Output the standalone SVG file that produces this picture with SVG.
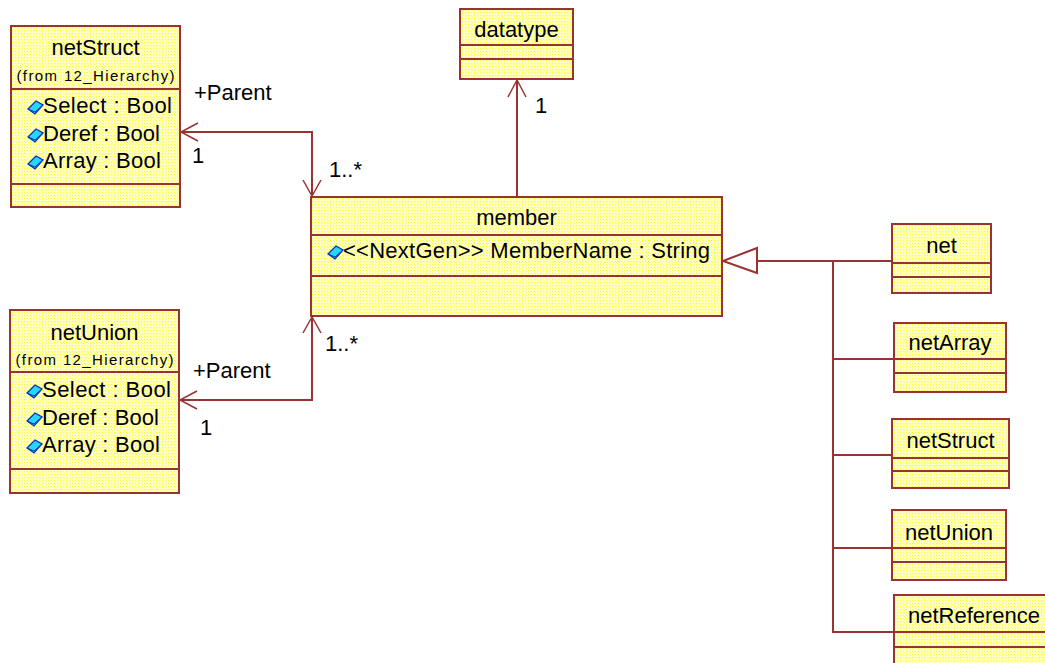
<svg xmlns="http://www.w3.org/2000/svg" width="1045" height="663" viewBox="0 0 1045 663">
  <defs>
    <pattern id="dots" patternUnits="userSpaceOnUse" width="3" height="3">
      <rect width="3" height="3" fill="#ffffc4"/>
      <rect width="1" height="1" fill="#ffff20"/>
      <rect x="1" y="1" width="1" height="1" fill="#ffff70"/>
    </pattern>
    <g id="attr">
      <polygon points="0,8 8,0 15,4 7,13" fill="#22d8ff" stroke="#1030b0" stroke-width="1.3"/>
      <polyline points="0,8 7,11 15,4" fill="none" stroke="#1030b0" stroke-width="1"/>
    </g>
  </defs>
  <style>
    .box { fill: url(#dots); stroke: #993333; stroke-width: 2; }
    .div { stroke: #993333; stroke-width: 2; }
    .t { font-family: "Liberation Sans", Arial, sans-serif; font-size: 22px; fill: #000; }
    .c { text-anchor: middle; }
    .s { font-size: 15px; }
    .ln { fill: none; stroke: #993333; stroke-width: 2; }
    .hd { fill: none; stroke: #993333; stroke-width: 1.5; }
  </style>
  <rect width="1045" height="663" fill="#ffffff"/>

  <!-- associations and generalization -->
  <g id="connectors">
    <polyline class="ln" points="180,132 312,132 312,197"/>
    <polyline class="hd" points="198,123 181,132 198,141"/>
    <polyline class="hd" points="303,180 312,196 321,180"/>

    <polyline class="ln" points="179,400 312,400 312,316"/>
    <polyline class="hd" points="197,391 180,400 197,409"/>
    <polyline class="hd" points="303,333 312,317 321,333"/>

    <line class="ln" x1="517" y1="197" x2="517" y2="79"/>
    <polyline class="hd" points="508,97 517,80 526,97"/>

    <polygon class="ln" points="723,261 757,248 757,273"/>
    <line class="ln" x1="757" y1="261" x2="892" y2="261"/>
    <line class="ln" x1="833" y1="261" x2="833" y2="633"/>
    <line class="ln" x1="833" y1="359" x2="894" y2="359"/>
    <line class="ln" x1="833" y1="455" x2="892" y2="455"/>
    <line class="ln" x1="833" y1="548" x2="892" y2="548"/>
    <line class="ln" x1="832" y1="632" x2="894" y2="632"/>

    <text class="t" x="194" y="100">+Parent</text>
    <text class="t" x="192" y="163">1</text>
    <text class="t" x="329" y="177">1..*</text>
    <text class="t" x="193" y="378">+Parent</text>
    <text class="t" x="200" y="435">1</text>
    <text class="t" x="325" y="351">1..*</text>
    <text class="t" x="535" y="113">1</text>
  </g>

  <g id="netStruct-hier">
    <rect class="box" x="11" y="26" width="169" height="181"/>
    <line class="div" x1="11" y1="89" x2="180" y2="89"/>
    <line class="div" x1="11" y1="184" x2="180" y2="184"/>
    <text class="t c" x="95.5" y="55">netStruct</text>
    <text class="t c s" x="95.5" y="81" textLength="158" lengthAdjust="spacing">(from 12_Hierarchy)</text>
    <use href="#attr" x="28" y="101"/>
    <text class="t" x="43" y="113" textLength="129" lengthAdjust="spacing">Select : Bool</text>
    <use href="#attr" x="28" y="129"/>
    <text class="t" x="43" y="141" textLength="117" lengthAdjust="spacing">Deref : Bool</text>
    <use href="#attr" x="28" y="156"/>
    <text class="t" x="43" y="168" textLength="118" lengthAdjust="spacing">Array : Bool</text>
  </g>

  <g id="netUnion-hier">
    <rect class="box" x="10" y="310" width="169" height="183"/>
    <line class="div" x1="10" y1="372" x2="179" y2="372"/>
    <line class="div" x1="10" y1="469" x2="179" y2="469"/>
    <text class="t c" x="94.5" y="340">netUnion</text>
    <text class="t c s" x="94.5" y="365" textLength="158" lengthAdjust="spacing">(from 12_Hierarchy)</text>
    <use href="#attr" x="27" y="385"/>
    <text class="t" x="42" y="397" textLength="129" lengthAdjust="spacing">Select : Bool</text>
    <use href="#attr" x="27" y="413"/>
    <text class="t" x="42" y="425" textLength="117" lengthAdjust="spacing">Deref : Bool</text>
    <use href="#attr" x="27" y="440"/>
    <text class="t" x="42" y="452" textLength="118" lengthAdjust="spacing">Array : Bool</text>
  </g>

  <g id="datatype">
    <rect class="box" x="460" y="9" width="113" height="70"/>
    <line class="div" x1="460" y1="45" x2="573" y2="45"/>
    <line class="div" x1="460" y1="59" x2="573" y2="59"/>
    <text class="t c" x="516.5" y="37">datatype</text>
  </g>

  <g id="member">
    <rect class="box" x="311" y="197" width="411" height="119"/>
    <line class="div" x1="311" y1="235" x2="722" y2="235"/>
    <line class="div" x1="311" y1="276" x2="722" y2="276"/>
    <text class="t c" x="516.5" y="225">member</text>
    <use href="#attr" x="328" y="246"/>
    <text class="t" x="343" y="258" textLength="367" lengthAdjust="spacing">&lt;&lt;NextGen&gt;&gt; MemberName : String</text>
  </g>

  <g id="net">
    <rect class="box" x="892" y="224" width="99" height="69"/>
    <line class="div" x1="892" y1="263" x2="991" y2="263"/>
    <line class="div" x1="892" y1="277" x2="991" y2="277"/>
    <text class="t c" x="941.5" y="253">net</text>
  </g>

  <g id="netArray">
    <rect class="box" x="894" y="323" width="112" height="69"/>
    <line class="div" x1="894" y1="359" x2="1006" y2="359"/>
    <line class="div" x1="894" y1="373" x2="1006" y2="373"/>
    <text class="t c" x="950" y="350">netArray</text>
  </g>

  <g id="netStruct">
    <rect class="box" x="892" y="419" width="117" height="69"/>
    <line class="div" x1="892" y1="458" x2="1009" y2="458"/>
    <line class="div" x1="892" y1="471" x2="1009" y2="471"/>
    <text class="t c" x="950.5" y="448">netStruct</text>
  </g>

  <g id="netUnion">
    <rect class="box" x="892" y="510" width="114" height="70"/>
    <line class="div" x1="892" y1="548" x2="1006" y2="548"/>
    <line class="div" x1="892" y1="562" x2="1006" y2="562"/>
    <text class="t c" x="949" y="540">netUnion</text>
  </g>

  <g id="netReference">
    <rect class="box" x="894" y="595" width="165" height="80"/>
    <line class="div" x1="894" y1="632" x2="1059" y2="632"/>
    <line class="div" x1="894" y1="647" x2="1059" y2="647"/>
    <text class="t c" x="974" y="623">netReference</text>
  </g>
</svg>
